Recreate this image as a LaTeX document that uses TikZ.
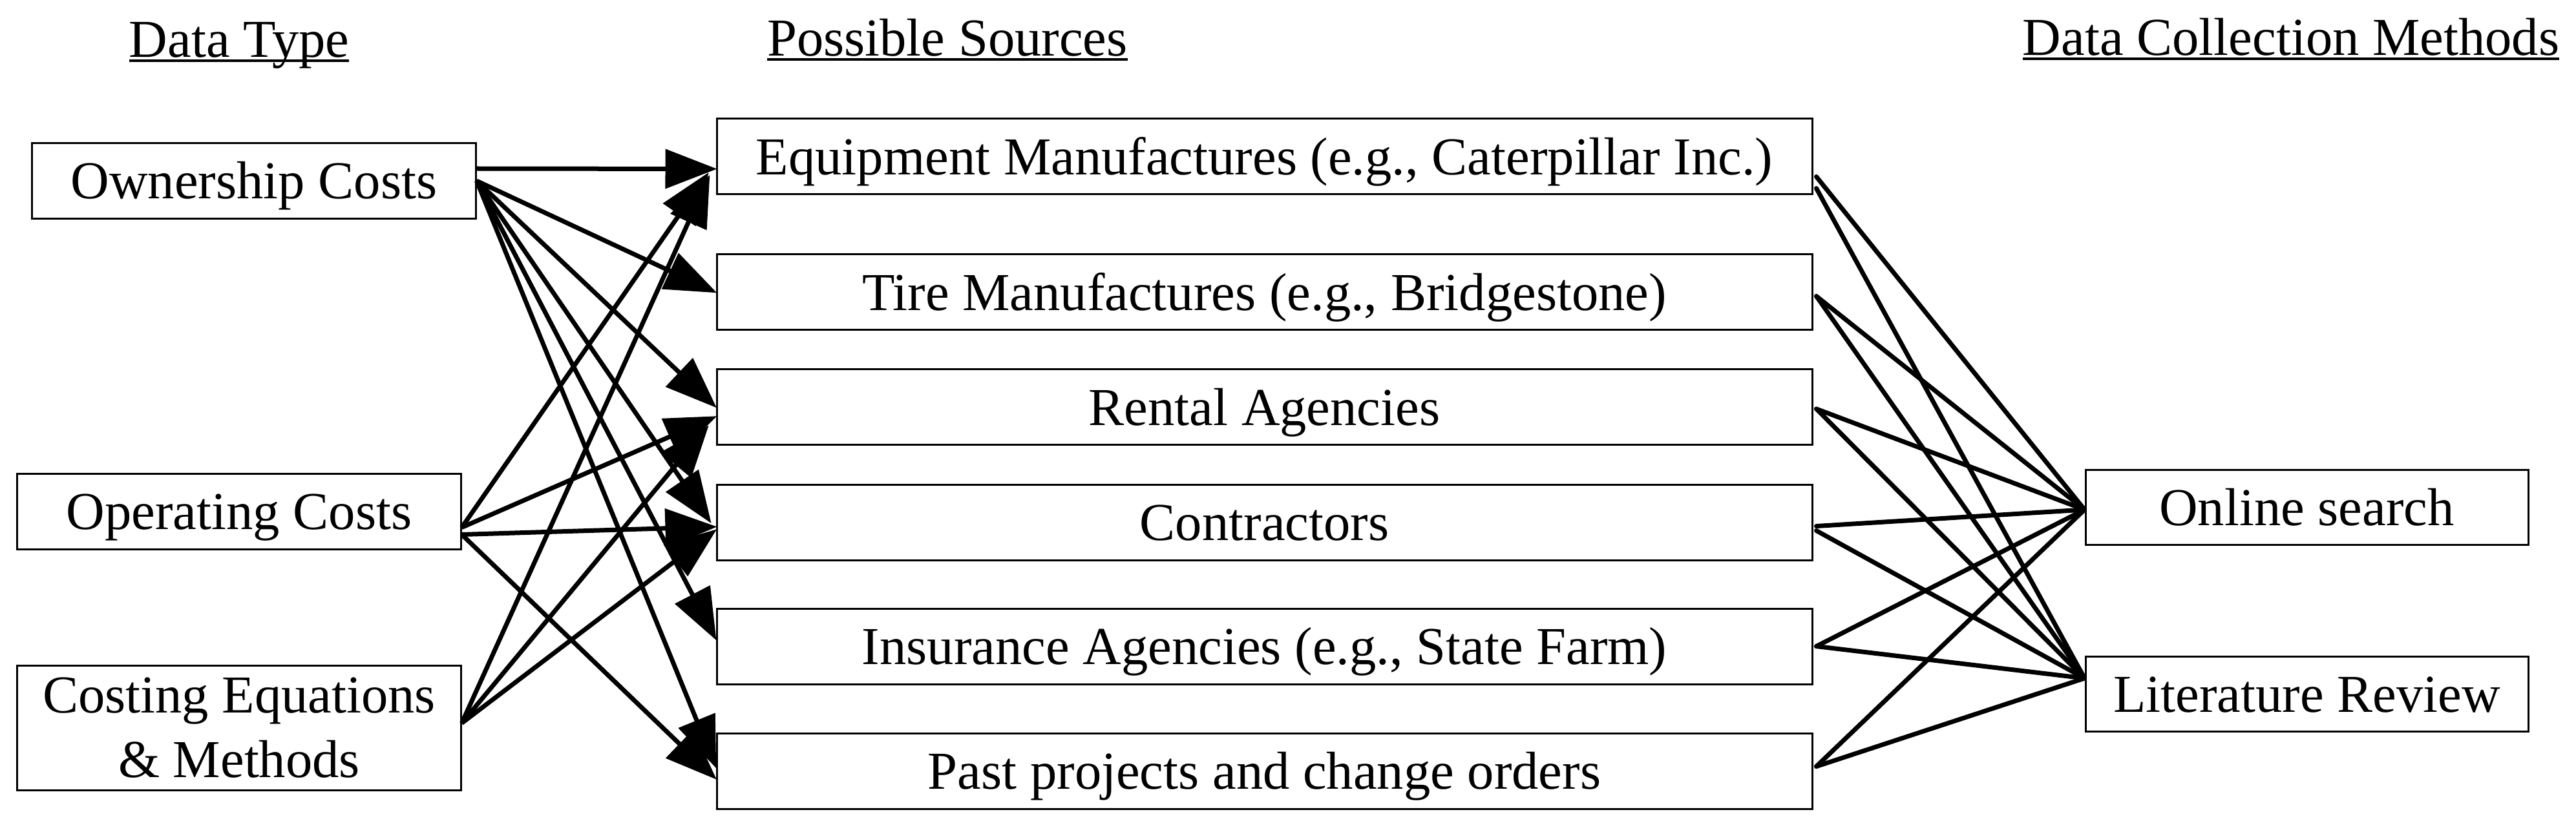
\documentclass[tikz,border=0pt]{standalone}
\usepackage{fontspec}
\setmainfont{Liberation Serif}
\usetikzlibrary{arrows.meta}
\newcommand{\headline}[1]{\setbox0\hbox{#1}\rlap{\rule[-0.07cm]{\wd0}{0.04cm}}\box0}
\tikzset{
  box/.style={draw, line width=0.03cm, minimum width=6.86cm, minimum height=1.17cm, inner sep=0pt},
  tbox/.style={box, text height=0.62cm, text depth=0.06cm},
  srcbox/.style={tbox, minimum width=16.95cm},
  feed/.style={line width=0.07cm, -{Triangle[length=0.8cm,width=0.6cm]}, shorten >=-0.02cm},
  link/.style={line width=0.07cm, line cap=round}
}
\begin{document}
\begin{tikzpicture}[every node/.style={font=\fontsize{23.5}{28.2}\selectfont}]
\useasboundingbox (0,0) rectangle (39.86,-12.88);
% column headings
\node[anchor=base] (hdtype) at (3.70,-0.89) {\headline{Data Type}};
\node[anchor=base] (hdsrc) at (14.66,-0.87) {\headline{Possible Sources}};
\node[anchor=base] (hdmeth) at (35.45,-0.86) {\headline{Data Collection Methods}};
% data types
\node[tbox] (own) at (3.93,-2.80) {Ownership Costs};
\node[tbox] (oper) at (3.70,-7.915) {Operating Costs};
\node[box, minimum height=1.93cm, align=center] (cost) at (3.70,-11.265) {Costing Equations\\ \& Methods};
% possible sources
\node[srcbox] (equip) at (19.565,-2.425) {Equipment Manufactures (e.g., Caterpillar Inc.)};
\node[srcbox] (tire) at (19.565,-4.525) {Tire Manufactures (e.g., Bridgestone)};
\node[srcbox] (rent) at (19.565,-6.30) {Rental Agencies};
\node[srcbox] (contr) at (19.565,-8.085) {Contractors};
\node[srcbox] (insur) at (19.565,-10.005) {Insurance Agencies (e.g., State Farm)};
\node[srcbox] (past) at (19.565,-11.935) {Past projects and change orders};
% collection methods
\node[tbox, minimum width=6.85cm, minimum height=1.16cm] (online) at (35.695,-7.85) {Online search};
\node[tbox, minimum width=6.85cm, minimum height=1.16cm] (lit) at (35.695,-10.74) {Literature Review};
% types -> sources
\draw[feed] ([yshift=0.19cm]own.east) -- ([yshift=-0.19cm]equip.west);
\draw[feed] (own.east) -- (tire.west);
\draw[feed] (own.east) -- (rent.west);
\draw[feed] (own.east) -- ([xshift=-0.08cm]contr.west);
\draw[feed] (own.east) -- ([yshift=0.11cm]insur.west);
\draw[feed] (own.east) -- ([yshift=0.06cm]past.west);
\draw[feed] ([yshift=-0.25cm]oper.east) -- ([xshift=-0.12cm,yshift=-0.26cm]equip.west);
\draw[feed] ([yshift=-0.25cm]oper.east) -- ([yshift=-0.15cm]rent.west);
\draw[feed] ([yshift=-0.36cm]oper.east) -- ([yshift=-0.07cm]contr.west);
\draw[feed] ([yshift=-0.36cm]oper.east) -- ([yshift=-0.12cm]past.west);
\draw[feed] ([yshift=0.07cm]cost.east) -- ([xshift=-0.10cm,yshift=-0.30cm]equip.west);
\draw[feed] ([yshift=0.07cm]cost.east) -- ([xshift=-0.12cm,yshift=-0.30cm]rent.west);
\draw[feed] ([yshift=0.07cm]cost.east) -- ([yshift=-0.12cm]contr.west);
% sources -> methods
\draw[link] ([xshift=0.05cm,yshift=-0.31cm]equip.east) -- ([yshift=-0.04cm]online.west);
\draw[link] ([xshift=0.05cm,yshift=-0.49cm]equip.east) -- ([yshift=0.24cm]lit.west);
\draw[link] ([xshift=0.05cm,yshift=-0.06cm]tire.east) -- ([yshift=-0.04cm]online.west);
\draw[link] ([xshift=0.05cm,yshift=-0.06cm]tire.east) -- ([yshift=0.24cm]lit.west);
\draw[link] ([xshift=0.05cm,yshift=-0.03cm]rent.east) -- ([yshift=-0.04cm]online.west);
\draw[link] ([xshift=0.05cm,yshift=-0.03cm]rent.east) -- ([yshift=0.24cm]lit.west);
\draw[link] ([xshift=0.05cm,yshift=-0.06cm]contr.east) -- ([yshift=-0.04cm]online.west);
\draw[link] ([xshift=0.05cm,yshift=-0.13cm]contr.east) -- ([yshift=0.24cm]lit.west);
\draw[link] ([xshift=0.05cm]insur.east) -- ([yshift=-0.04cm]online.west);
\draw[link] ([xshift=0.05cm]insur.east) -- ([yshift=0.24cm]lit.west);
\draw[link] ([xshift=0.05cm,yshift=0.07cm]past.east) -- ([yshift=-0.04cm]online.west);
\draw[link] ([xshift=0.05cm,yshift=0.07cm]past.east) -- ([yshift=0.24cm]lit.west);
\end{tikzpicture}
\end{document}
